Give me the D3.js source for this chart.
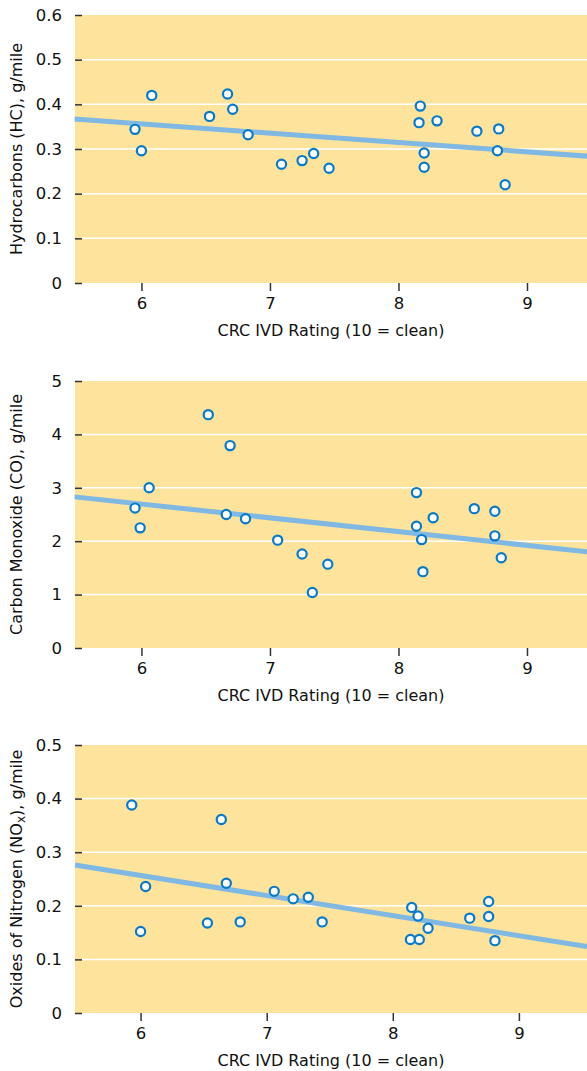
<!DOCTYPE html>
<html>
<head>
<meta charset="utf-8">
<script src="https://cdn.jsdelivr.net/npm/d3@7"></script>
<style>
  body { margin: 0; background: #fff; }
  svg text { font-family: "DejaVu Sans", sans-serif; fill: #111; }
  .axisTitle { font-size: 16px; }
</style>
</head>
<body>
<div id="chart"></div>
<script>
////// data //////
// x ticks (CRC IVD rating)
var xTicks = [6, 7, 8, 9];

// hydrocarbons
var hcRating = [5.95, 6.00, 6.08, 6.53, 6.67, 6.71, 6.83, 7.09, 7.25, 7.34, 7.46, 8.17, 8.16, 8.30, 8.20, 8.20, 8.61, 8.78, 8.77, 8.83];
var hcValue  = [0.344, 0.296, 0.420, 0.373, 0.423, 0.389, 0.332, 0.266, 0.274, 0.290, 0.257, 0.396, 0.359, 0.363, 0.291, 0.259, 0.340, 0.345, 0.296, 0.220];
var hcTicks = [0, 0.1, 0.2, 0.3, 0.4, 0.5, 0.6];
var hcTrend = [[5.48, 0.367], [9.47, 0.284]];

// carbon monoxide
var coRating = [5.95, 5.99, 6.06, 6.52, 6.69, 6.66, 6.81, 7.06, 7.25, 7.33, 7.45, 8.14, 8.14, 8.27, 8.18, 8.19, 8.59, 8.75, 8.75, 8.80];
var coValue  = [2.62, 2.25, 3.00, 4.37, 3.79, 2.50, 2.42, 2.02, 1.76, 1.04, 1.57, 2.91, 2.28, 2.44, 2.03, 1.43, 2.61, 2.56, 2.10, 1.69];
var coTicks = [0, 1, 2, 3, 4, 5];
var coTrend = [[5.48, 2.83], [9.47, 1.80]];

// oxides of nitrogen
var noxRating = [5.93, 6.00, 6.04, 6.53, 6.64, 6.68, 6.79, 7.06, 7.21, 7.33, 7.44, 8.15, 8.20, 8.28, 8.14, 8.21, 8.61, 8.76, 8.76, 8.81];
var noxValue  = [0.388, 0.152, 0.236, 0.168, 0.361, 0.242, 0.170, 0.227, 0.213, 0.216, 0.170, 0.197, 0.181, 0.158, 0.137, 0.137, 0.177, 0.208, 0.180, 0.135];
var noxTicks = [0, 0.1, 0.2, 0.3, 0.4, 0.5];
var noxTrend = [[5.48, 0.276], [9.54, 0.124]];

////// 畫布 //////
const width = 587;
const height = 1071;
const plotLeft = 75;
const plotRight = 587;

var svg = d3.select('#chart')
  .append('svg')
    .attr('width', width)
    .attr('height', height);

// 0 不要小數點
var oneDecimal = d => d == 0 ? '0' : d3.format('.1f')(d);

var panels = [
  { rating: hcRating, value: hcValue, ticks: hcTicks, trend: hcTrend, top: 15, bottom: 283,
    xDomain: [5.483, 9.467], fmt: oneDecimal, label: ['Hydrocarbons (HC), g/mile'] },
  { rating: coRating, value: coValue, ticks: coTicks, trend: coTrend, top: 381, bottom: 648,
    xDomain: [5.483, 9.467], fmt: d3.format('d'), label: ['Carbon Monoxide (CO), g/mile'] },
  { rating: noxRating, value: noxValue, ticks: noxTicks, trend: noxTrend, top: 745, bottom: 1013,
    xDomain: [5.48, 9.54], fmt: oneDecimal, label: ['Oxides of Nitrogen (NO', 'x', '), g/mile'] }
];

panels.forEach(function(p) {
  var x = d3.scaleLinear().domain(p.xDomain).range([plotLeft, plotRight]);
  var y = d3.scaleLinear().domain([0, d3.max(p.ticks)]).range([p.bottom, p.top]);
  var g = svg.append('g');

  // 背景
  g.append('rect')
    .attr('x', plotLeft)
    .attr('y', p.top)
    .attr('width', plotRight - plotLeft)
    .attr('height', p.bottom - p.top)
    .style('fill', '#fde39b');

  // 格線
  g.selectAll('line.grid')
    .data(p.ticks.filter(d => d > 0 && d < d3.max(p.ticks)))
    .enter()
    .append('line')
    .attr('class', 'grid')
    .attr('x1', plotLeft + 7)
    .attr('x2', plotRight)
    .attr('y1', d => y(d))
    .attr('y2', d => y(d))
    .style('stroke', '#fff')
    .style('stroke-width', 1.5);

  // Y軸
  var yAxis = d3.axisLeft(y)
    .tickValues(p.ticks)
    .tickSize(-7)
    .tickPadding(13)
    .tickFormat(p.fmt);
  var ya = g.append('g')
    .attr('transform', `translate(${plotLeft}, 0)`)
    .call(yAxis);
  ya.select('.domain').remove();
  ya.selectAll('.tick line').style('stroke', '#333').style('stroke-width', 1.5);
  ya.selectAll('.tick text').style('font-size', '16.5px').attr('font-family', null);

  // X軸
  var xAxis = d3.axisBottom(x)
    .tickValues(xTicks)
    .tickSize(8)
    .tickPadding(6)
    .tickFormat(d3.format('d'));
  var xa = g.append('g')
    .attr('transform', `translate(0, ${p.bottom})`)
    .call(xAxis);
  xa.select('.domain').remove();
  xa.selectAll('.tick line').style('stroke', '#333').style('stroke-width', 1.5);
  xa.selectAll('.tick text').style('font-size', '16.5px').attr('font-family', null);

  // X軸標題
  g.append('text')
    .attr('class', 'axisTitle')
    .attr('x', (plotLeft + plotRight) / 2)
    .attr('y', p.bottom + 53)
    .style('text-anchor', 'middle')
    .text('CRC IVD Rating (10 = clean)');

  // Y軸標題
  var yt = g.append('text')
    .attr('class', 'axisTitle')
    .attr('transform', `translate(22, ${(p.top + p.bottom) / 2}) rotate(-90)`)
    .style('text-anchor', 'middle');
  if (p.label.length == 1) {
    yt.text(p.label[0]);
  } else {
    yt.append('tspan').text(p.label[0]);
    yt.append('tspan').attr('dy', 3).style('font-size', '12px').text(p.label[1]);
    yt.append('tspan').attr('dy', -3).text(p.label[2]);
  }

  // 趨勢線
  g.append('path')
    .datum(p.trend)
    .attr('d', d3.line().x(d => x(d[0])).y(d => y(d[1])))
    .style('fill', 'none')
    .style('stroke', '#7fb8e2')
    .style('stroke-width', 5);

  // 點
  g.selectAll('circle.dot')
    .data(p.rating.map((r, i) => [r, p.value[i]]))
    .enter()
    .append('circle')
    .attr('class', 'dot')
    .attr('cx', d => x(d[0]))
    .attr('cy', d => y(d[1]))
    .attr('r', 4.6)
    .style('fill', '#fff')
    .style('stroke', '#0a79c8')
    .style('stroke-width', 2.2);
});
</script>
</body>
</html>
